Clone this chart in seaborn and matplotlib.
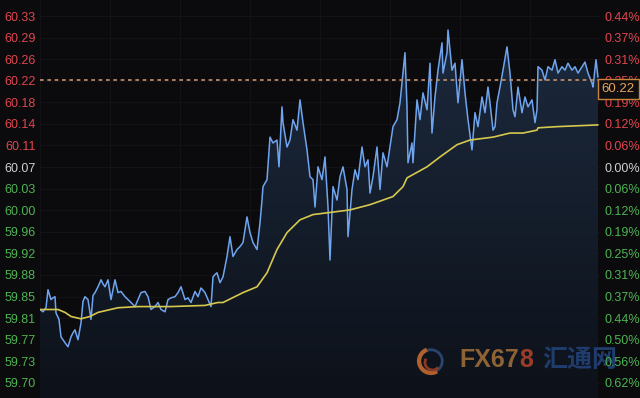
import numpy as np
import pandas as pd
import matplotlib
matplotlib.use('Agg')
import matplotlib.pyplot as plt
from matplotlib.colors import LinearSegmentedColormap
from matplotlib.patches import Circle, Arc
import matplotlib.transforms as mtransforms
import seaborn as sns

# DADOS (minutos desde a abertura / preço)
minutos = [0, 3, 6, 8, 11, 13, 15, 16, 19, 21, 23, 25, 28, 31, 33, 35, 38, 41, 43, 45,
           48, 51, 53, 55, 58, 61, 63, 65, 68, 71, 73, 75, 78, 81, 85, 88, 91, 95, 98, 101,
           105, 108, 111, 115, 118, 121, 125, 128, 131, 135, 138, 141, 145, 148, 151, 155, 158, 161, 165, 168,
           171, 173, 175, 177, 180, 183, 187, 190, 193, 197, 200, 203, 207, 210, 213, 217, 220, 222, 223, 227,
           230, 233, 237, 239, 242, 243, 247, 250, 253, 257, 260, 263, 267, 270, 273, 275, 278, 282, 285, 288,
           290, 293, 297, 300, 303, 307, 308, 312, 315, 318, 322, 325, 328, 330, 333, 337, 340, 343, 347, 350,
           353, 357, 360, 362, 363, 365, 367, 368, 372, 373, 377, 380, 383, 387, 390, 392, 395, 398, 402, 403,
           407, 408, 412, 415, 418, 422, 425, 428, 432, 435, 438, 442, 445, 448, 450, 453, 455, 457, 460, 463,
           467, 470, 473, 475, 478, 482, 485, 488, 492, 495, 497, 498, 502, 505, 508, 512, 515, 518, 522, 525,
           528, 532, 535, 538, 542, 545, 548, 552, 553, 556, 558]
preco = [59.826, 59.822, 59.829, 59.860, 59.843, 59.846, 59.848, 59.820, 59.809, 59.779, 59.774, 59.769, 59.762, 59.779, 59.786, 59.791, 59.774, 59.803, 59.840, 59.848,
         59.843, 59.809, 59.850, 59.855, 59.865, 59.877, 59.870, 59.865, 59.877, 59.843, 59.860, 59.877, 59.855, 59.857, 59.848, 59.843, 59.838, 59.831, 59.843, 59.855,
         59.857, 59.848, 59.826, 59.831, 59.838, 59.826, 59.822, 59.843, 59.846, 59.848, 59.855, 59.865, 59.843, 59.846, 59.838, 59.857, 59.848, 59.863, 59.855, 59.843,
         59.831, 59.882, 59.886, 59.889, 59.872, 59.882, 59.917, 59.951, 59.917, 59.929, 59.934, 59.941, 59.985, 59.958, 59.941, 59.929, 59.975, 60.014, 60.037, 60.049,
         60.122, 60.112, 60.117, 60.071, 60.174, 60.147, 60.105, 60.117, 60.152, 60.134, 60.186, 60.147, 60.100, 60.054, 60.049, 60.002, 60.071, 60.049, 60.088, 60.002,
         59.911, 60.037, 60.014, 60.054, 60.071, 60.032, 59.951, 60.032, 60.066, 60.049, 60.105, 60.071, 60.083, 60.026, 60.054, 60.105, 60.032, 60.095, 60.071, 60.105,
         60.140, 60.152, 60.181, 60.215, 60.232, 60.267, 60.174, 60.078, 60.112, 60.078, 60.186, 60.152, 60.198, 60.169, 60.249, 60.129, 60.191, 60.237, 60.284, 60.232,
         60.267, 60.306, 60.237, 60.249, 60.181, 60.255, 60.198, 60.152, 60.100, 60.164, 60.140, 60.191, 60.164, 60.208, 60.181, 60.134, 60.140, 60.181, 60.208, 60.237,
         60.277, 60.232, 60.169, 60.157, 60.208, 60.164, 60.191, 60.174, 60.186, 60.147, 60.169, 60.243, 60.237, 60.220, 60.243, 60.237, 60.255, 60.232, 60.243, 60.237,
         60.249, 60.237, 60.243, 60.232, 60.243, 60.251, 60.232, 60.215, 60.208, 60.255, 60.225]

minutos_media = [0, 18, 25, 31, 41, 50, 58, 78, 98, 131, 165, 178, 183, 203, 217, 227, 237, 247, 260,
                 273, 287, 310, 330, 353, 363, 367, 387, 400, 417, 430, 453, 470, 483, 497, 498, 517, 558]
preco_medio = [59.826, 59.826, 59.821, 59.814, 59.810, 59.814, 59.821, 59.829, 59.831, 59.831, 59.833, 59.838, 59.838,
               59.855, 59.865, 59.889, 59.929, 59.958, 59.980, 59.989, 59.992, 59.997, 60.006, 60.020, 60.037, 60.052,
               60.071, 60.088, 60.109, 60.117, 60.122, 60.129, 60.129, 60.134, 60.138, 60.140, 60.143]

ultimo_preco = 60.22
rotulos_preco = ['60.33', '60.29', '60.26', '60.22', '60.18', '60.14', '60.11', '60.07', '60.03',
                 '60.00', '59.96', '59.92', '59.88', '59.85', '59.81', '59.77', '59.73', '59.70']
rotulos_pct = ['0.44%', '0.37%', '0.31%', '0.25%', '0.19%', '0.12%', '0.06%', '0.00%', '0.06%',
               '0.12%', '0.19%', '0.25%', '0.31%', '0.37%', '0.44%', '0.50%', '0.56%', '0.62%']

# ESTILO
sns.set_style('dark', rc={'axes.facecolor': '#0b0b0d', 'figure.facecolor': '#0b0b0d',
                          'axes.edgecolor': '#0b0b0d', 'grid.color': '#151519'})
plt.rcParams['font.family'] = ['Liberation Sans', 'DejaVu Sans']

df = pd.DataFrame({'minuto': minutos, 'preco': preco})
df_media = pd.DataFrame({'minuto': minutos_media, 'preco': preco_medio})

y_top = 60.3575
y_bot = 59.674
passo = (60.33 - 59.70) / 17
ticks = [60.33 - k * passo for k in range(18)]

fig = plt.figure(figsize=(6.4, 3.98), dpi=100)
ax = fig.add_axes([40 / 640, 0, 560 / 640, 1])

# area com gradiente
area = ax.fill_between(df['minuto'], df['preco'], y_bot, color='none', lw=0)
cmap = LinearSegmentedColormap.from_list('area', ['#0d1119', '#1c2a3e'])
grad = np.linspace(0, 1, 256).reshape(-1, 1)
img = ax.imshow(grad, extent=[0, 560, y_bot, 60.31], origin='lower', aspect='auto',
                cmap=cmap, zorder=1)
img.set_clip_path(area.get_paths()[0], transform=ax.transData)
ax.set_xlim(0, 560)
ax.set_ylim(y_bot, y_top)

sns.lineplot(data=df, x='minuto', y='preco', ax=ax, color='#6fa4ee',
             lw=1.1, estimator=None, zorder=3)
sns.lineplot(data=df_media, x='minuto', y='preco', ax=ax, color='#d6c84e',
             lw=1.2, estimator=None, zorder=3)

ax.axhline(ultimo_preco, color='#c8906a', lw=1.2, ls=(0, (2.2, 2.2)), zorder=4)

ax.set_xticks(range(0, 561, 70))
ax.set_xticklabels([])
ax.set_yticks(ticks)
ax.set_yticklabels(rotulos_preco)
ax.grid(True, lw=0.6)
ax.set_axisbelow(True)
ax.set_xlabel('')
ax.set_ylabel('')
ax.tick_params(axis='both', length=0)
ax.tick_params(axis='y', pad=3, labelsize=9)

ax2 = ax.twinx()
ax2.set_ylim(y_bot, y_top)
ax2.set_yticks(ticks)
ax2.set_yticklabels(rotulos_pct)
ax2.tick_params(axis='y', length=0, pad=3, labelsize=9)
ax2.grid(False)
for s in ax2.spines.values():
    s.set_visible(False)
for s in ax.spines.values():
    s.set_visible(False)

vermelho = '#e0454f'
cinza = '#d0d0d0'
verde = '#4db352'
for i, (l1, l2) in enumerate(zip(ax.get_yticklabels(), ax2.get_yticklabels())):
    c = vermelho if i < 7 else (cinza if i == 7 else verde)
    l1.set_color(c)
    l2.set_color(c)

# caixa do ultimo preco
trans = mtransforms.blended_transform_factory(ax2.transAxes, ax2.transData)
ax2.text(1.003, ultimo_preco - 0.0155, f'{ultimo_preco:.2f}', transform=trans,
         fontsize=9.5, color='#e6a45a', va='center', ha='left', clip_on=False, zorder=10,
         bbox=dict(boxstyle='square,pad=0.3', fc='#0e0e10', ec='#c8843c', lw=1))

# marca d'agua (atras das linhas e dos rotulos)
y_marca = 1 - 360 / 398
t1 = ax.text(459 / 640, y_marca, 'FX67', fontsize=18, fontweight='bold', color='#8d6234',
             va='center', ha='left', transform=fig.transFigure, clip_on=False, zorder=2)
fig.canvas.draw()
bb = t1.get_window_extent(renderer=fig.canvas.get_renderer())
ax.text(bb.x1 / 640 + 0.001, y_marca, '8', fontsize=18, fontweight='bold', color='#9c3d27',
        va='center', ha='left', transform=fig.transFigure, clip_on=False, zorder=2)
ax.text(542 / 640, y_marca, '汇通网', fontsize=18, fontweight='bold', color='#1f3c6c',
        va='center', ha='left', transform=fig.transFigure, clip_on=False, zorder=2,
        family=['Noto Sans CJK SC', 'DejaVu Sans'])
logo_ax = fig.add_axes([415 / 640, 1 - 376 / 398, 32 / 640, 30 / 398])
logo_ax.set_xlim(-1, 1)
logo_ax.set_ylim(-1, 1)
logo_ax.set_aspect('equal')
logo_ax.axis('off')
logo_ax.add_patch(Circle((0, 0), 0.75, fill=False, ec='#2a4470', lw=2))
logo_ax.add_patch(Arc((0, 0), 1.6, 1.6, theta1=110, theta2=300, ec='#b0602c', lw=3))
logo_ax.add_patch(Arc((0.1, -0.1), 1.0, 1.0, theta1=150, theta2=320, ec='#8a3a24', lw=2))

plt.savefig('out.png', dpi=100, facecolor=fig.get_facecolor())
